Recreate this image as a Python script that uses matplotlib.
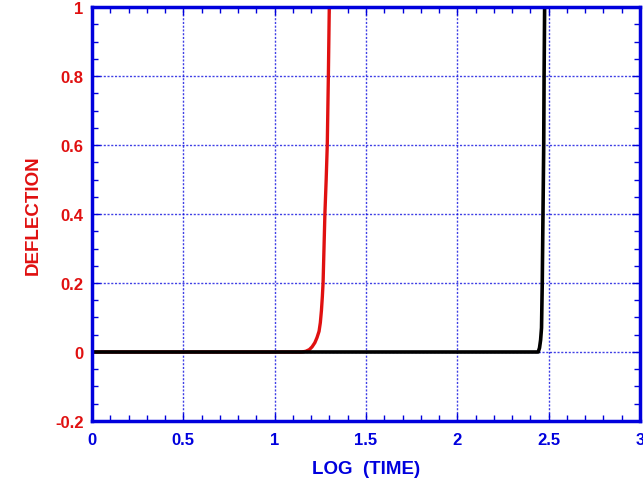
import matplotlib.pyplot as plt
from matplotlib.ticker import MultipleLocator

# red curve (log time, deflection)
red_x = [0.0, 1.10, 1.148, 1.17, 1.19, 1.205, 1.22, 1.232, 1.243, 1.250, 1.256, 1.261,
         1.265, 1.270, 1.275, 1.282, 1.288, 1.294, 1.299]
red_y = [0.0, 0.0, 0.0, 0.002, 0.007, 0.015, 0.027, 0.042, 0.060, 0.085, 0.12, 0.16,
         0.20, 0.30, 0.40, 0.50, 0.60, 0.80, 1.0]

# black curve
blk_x = [0.0, 2.40, 2.443, 2.450, 2.456, 2.461, 2.465, 2.469, 2.473, 2.475, 2.478]
blk_y = [0.0, 0.0, 0.0, 0.012, 0.035, 0.07, 0.20, 0.40, 0.60, 0.80, 1.0]

blue = '#0000dd'
red = '#e01010'

plt.rcParams['font.family'] = ['Liberation Sans', 'DejaVu Sans']
fig = plt.figure(figsize=(6.43, 4.85), dpi=100)
ax = fig.add_axes([0.1431, 0.1299, 0.8522, 0.8536])

ax.plot(red_x, red_y, color=red, linewidth=2.4, solid_capstyle='butt')
ax.plot(blk_x, blk_y, color='black', linewidth=2.6, solid_capstyle='butt')

ax.set_xlim(0, 3)
ax.set_ylim(-0.2, 1)
ax.xaxis.set_major_locator(MultipleLocator(0.5))
ax.xaxis.set_minor_locator(MultipleLocator(0.1))
ax.yaxis.set_major_locator(MultipleLocator(0.2))
ax.yaxis.set_minor_locator(MultipleLocator(0.05))
ax.xaxis.set_major_formatter(plt.FuncFormatter(lambda v, p: f'{v:g}'))
ax.yaxis.set_major_formatter(plt.FuncFormatter(lambda v, p: f'{v:g}'))

ax.grid(True, which='major', color=blue, linestyle=(0, (1.5, 1.2)), linewidth=1.0, alpha=0.75)
ax.tick_params(which='both', direction='in', top=True, right=True, color=blue)
ax.tick_params(which='major', length=6, width=1)
ax.tick_params(which='minor', length=4, width=1)
ax.tick_params(axis='x', labelcolor=blue, labelsize=12, pad=8)
ax.tick_params(axis='y', labelcolor=red, labelsize=12, pad=6)
for lbl in ax.get_xticklabels() + ax.get_yticklabels():
    lbl.set_fontweight('bold')

for s in ax.spines.values():
    s.set_color(blue)
    s.set_linewidth(2.5)

ax.set_xlabel('LOG  (TIME)', color=blue, fontsize=13.5, fontweight='bold', labelpad=9)
ax.set_ylabel('DEFLECTION', color=red, fontsize=13.5, fontweight='bold', labelpad=10)

fig.savefig('out.png', dpi=100)
